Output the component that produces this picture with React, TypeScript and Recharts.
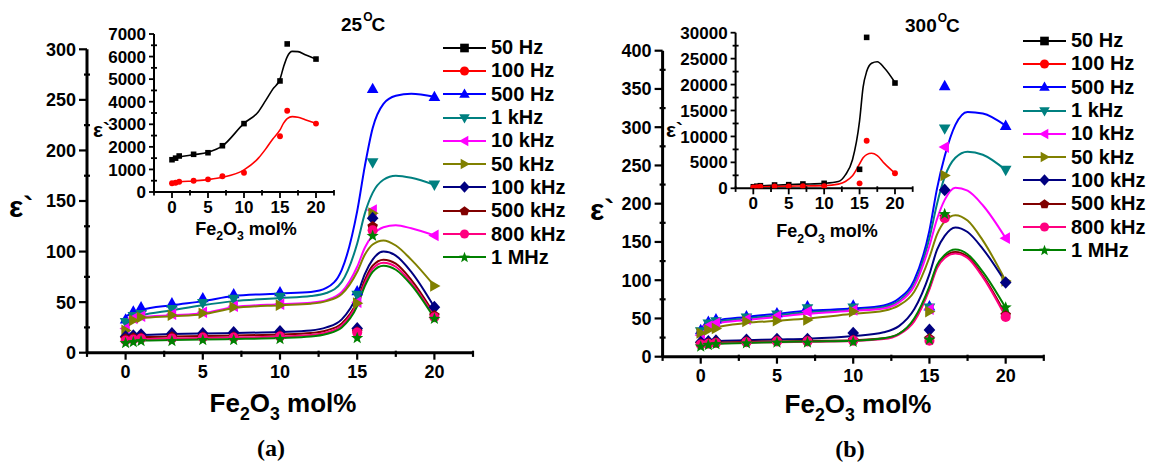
import React from "react";
import { ComposedChart, Line, Scatter, XAxis, YAxis, Legend } from "recharts";

// series order follows the legend
const freqLabels = ["50 Hz", "100 Hz", "500 Hz", "1 kHz", "10 kHz", "50 kHz", "100 kHz", "500 kHz", "800 kHz", "1 MHz"];
const freqColors = ["#000000", "#ff0000", "#0000ff", "#008080", "#ff00ff", "#808000", "#000080", "#800000", "#ff0080", "#008000"];
const freqShapes = ["square", "circle", "up", "down", "left", "right", "diamond", "pentagon", "circle", "star"];

// measured compositions and x of the fitted curves (Fe2O3 mol%)
const pointX = [0, 0.5, 1, 3, 5, 7, 10, 15, 16, 20];
const curveX = [0, 1, 3, 5, 7, 10, 12, 13, 14, 15, 15.5, 16, 16.7, 17.5, 18.5, 20];

const xTicks = [-2.5, 0, 2.5, 5, 7.5, 10, 12.5, 15, 17.5, 20, 22.5];
const yTicks25 = [0, 25, 50, 75, 100, 125, 150, 175, 200, 225, 250, 275, 300];
const yTicks300 = [0, 25, 50, 75, 100, 125, 150, 175, 200, 225, 250, 275, 300, 325, 350, 375, 400];
const insetTicks25 = [0, 500, 1000, 1500, 2000, 2500, 3000, 3500, 4000, 4500, 5000, 5500, 6000, 6500, 7000];
const insetTicks300 = [0, 2500, 5000, 7500, 10000, 12500, 15000, 17500, 20000, 22500, 25000, 27500, 30000];

// 25 C, main panel: 500 Hz .. 1 MHz
const points25 = [
  [33, 41, 45, 49, 54, 58, 60, 61, 261, 253],
  [30, 36, 38, 43, 49, 53, 55, 57, 188, 166],
  [24, 34, 36, 38, 40, 46, 48, 50, 141, 116],
  [22, 32, 35, 37, 39, 45, 47, 49, 138, 66],
  [16, 17, 18, 19, 19, 20, 21, 24, 133, 45],
  [14, 15, 15, 16, 16, 16, 17, 21, 125, 37],
  [12, 13, 14, 14, 15, 15, 16, 20, 121, 35],
  [10, 11, 12, 12, 13, 13, 14, 15, 116, 34],
];
const curves25 = [
  [36, 42, 47, 51, 56, 58.5, 60, 64, 82, 140, 185, 222, 246, 254, 256, 253],
  [32, 37, 42, 47, 51, 54, 56, 59, 70, 108, 138, 158, 171, 175, 173, 166],
  [27, 35, 37, 39, 45, 48, 49.5, 52, 60, 85, 104, 116, 124, 126, 123, 116],
  [26, 34, 36, 38, 44, 47, 48.5, 51, 58, 80, 97, 107, 111, 106, 92, 66],
  [15, 17.5, 18.5, 19, 19.5, 20.5, 22, 25, 33, 57, 78, 92, 100, 96, 80, 45],
  [14, 15.5, 16, 16.5, 17, 18, 19.5, 22, 29, 51, 72, 86, 92, 88, 72, 38],
  [12, 13.5, 14, 14.5, 15, 16, 17.5, 20, 27, 49, 69, 83, 89, 85, 69, 36],
  [11, 12, 12.5, 13, 13.5, 14.5, 16, 18.5, 25, 46, 66, 80, 86, 82, 67, 34],
];

// 300 C, main panel: 500 Hz .. 1 MHz
const points300 = [
  [35, 46, 49, 53, 57, 66, 67, 66, 354, 302],
  [33, 43, 46, 51, 55, 63, 64, 64, 298, 244],
  [28, 40, 44, 49, 53, 59, 61, 62, 274, 155],
  [31, 35, 37, 46, 47, 48, 59, 59, 237, 99],
  [19, 20, 21, 22, 23, 23, 31, 35, 218, 97],
  [17, 18, 19, 20, 21, 21, 22, 24, 183, 55],
  [16, 17, 18, 19, 20, 20, 21, 21, 181, 52],
  [14, 16, 17, 18, 19, 19, 20, 23, 187, 65],
];
const curves300 = [
  [38, 47, 52, 56, 60, 63, 67, 76, 100, 165, 220, 262, 303, 320, 318, 302],
  [36, 45, 50, 54, 58, 61, 65, 73, 95, 155, 200, 235, 260, 268, 264, 244],
  [34, 43, 48, 52, 56, 60, 63, 71, 92, 145, 180, 205, 221, 217, 198, 155],
  [31, 38, 44, 47, 50, 56, 60, 67, 85, 130, 160, 177, 185, 178, 152, 99],
  [19, 20.5, 21.5, 22.5, 23.5, 27, 32, 40, 62, 108, 140, 158, 169, 163, 141, 97],
  [17, 18.5, 19.5, 20, 20.5, 21.5, 24, 30, 48, 90, 118, 131, 137, 131, 106, 55],
  [16, 17.5, 18.5, 19, 19.5, 20.5, 23, 29, 46, 88, 116, 129, 135, 129, 104, 52],
  [15, 17, 18, 19, 20, 21, 24, 30, 50, 92, 120, 133, 140, 134, 111, 64],
];

// insets: 50 Hz and 100 Hz
const insetPoints25 = [
  [1430, 1500, 1595, 1670, 1740, 2050, 3030, 4920, 6560, 5890],
  [385, 410, 457, 500, 560, 695, 855, 2470, 3600, 3030],
];
const insetCurves25 = [
  [1450, 1550, 1650, 1760, 2040, 3040, 3560, 4050, 4560, 5000, 5550, 5990, 6230, 6220, 6080, 5890],
  [390, 440, 490, 550, 650, 980, 1500, 1900, 2350, 2750, 3050, 3250, 3340, 3310, 3200, 3040],
];
const insetPoints300 = [
  [300, 400, 500, 640, 700, 830, 960, 3660, 29100, 20300],
  [150, 200, 300, 350, 380, 400, 420, 960, 9180, 2890],
];
const insetCurves300 = [
  [300, 450, 600, 700, 800, 950, 1300, 2600, 5500, 13000, 19500, 22500, 24100, 24400, 23200, 20400],
  [200, 300, 350, 400, 450, 500, 800, 1300, 2400, 4700, 5900, 6500, 6750, 6300, 4800, 2900],
];

const FONT = "'Liberation Sans', Arial, sans-serif";

function Marker({ cx, cy, shape, color, r }: any) {
  if (cx == null || cy == null) return null;
  const poly = (pts: number[][]) => (
    <polygon points={pts.map((p) => `${cx + p[0] * r},${cy + p[1] * r}`).join(" ")} fill={color} />
  );
  switch (shape) {
    case "square":
      return <rect x={cx - r * 0.9} y={cy - r * 0.9} width={r * 1.8} height={r * 1.8} fill={color} />;
    case "circle":
      return <circle cx={cx} cy={cy} r={r * 0.95} fill={color} />;
    case "up":
      return poly([[0, -1.15], [1.1, 0.8], [-1.1, 0.8]]);
    case "down":
      return poly([[0, 1.15], [1.1, -0.8], [-1.1, -0.8]]);
    case "left":
      return poly([[-1.15, 0], [0.8, -1.1], [0.8, 1.1]]);
    case "right":
      return poly([[1.15, 0], [-0.8, -1.1], [-0.8, 1.1]]);
    case "diamond":
      return poly([[0, -1.2], [1.1, 0], [0, 1.2], [-1.1, 0]]);
    case "pentagon": {
      const pts = [0, 1, 2, 3, 4].map((k) => {
        const a = -Math.PI / 2 + (k * 2 * Math.PI) / 5;
        return [Math.cos(a) * 1.05, Math.sin(a) * 1.05 + 0.05];
      });
      return poly(pts);
    }
    case "star": {
      const pts = [0, 1, 2, 3, 4, 5, 6, 7, 8, 9].map((k) => {
        const a = -Math.PI / 2 + (k * Math.PI) / 5;
        const rr = k % 2 === 0 ? 1.2 : 0.5;
        return [Math.cos(a) * rr, Math.sin(a) * rr + 0.1];
      });
      return poly(pts);
    }
    default:
      return null;
  }
}

const toPts = (xs: number[], ys: number[]) => xs.map((x, i) => ({ x, y: ys[i] }));

const makeXTick = (fontSize: number, labelDy: number, majorLen: number, width: number) => (props: any) => {
  const { x, y, payload } = props;
  const v = payload.value;
  const major = v >= 0 && v <= 20 && v % 5 === 0;
  return (
    <g>
      {major ? (
        <line x1={x} x2={x} y1={y} y2={y + majorLen} stroke="#000" strokeWidth={width} />
      ) : (
        <line x1={x} x2={x} y1={y - 2} y2={y + majorLen * 0.6} stroke="#000" strokeWidth={width} />
      )}
      {major && (
        <text x={x} y={y + labelDy} textAnchor="middle" fontFamily={FONT} fontWeight="bold" fontSize={fontSize} fill="#000">
          {v}
        </text>
      )}
    </g>
  );
};

const makeYTick = (step: number, fontSize: number, majorLen: number, width: number) => (props: any) => {
  const { x, y, payload } = props;
  const v = payload.value;
  const major = v % step === 0;
  return (
    <g>
      {major ? (
        <line x1={x - majorLen} x2={x} y1={y} y2={y} stroke="#000" strokeWidth={width} />
      ) : (
        <line x1={x - 3} x2={x + 3} y1={y} y2={y} stroke="#000" strokeWidth={width} />
      )}
      {major && (
        <text x={x - majorLen - 3} y={y} dy="0.36em" textAnchor="end" fontFamily={FONT} fontWeight="bold" fontSize={fontSize} fill="#000">
          {v}
        </text>
      )}
    </g>
  );
};

function LegendBox() {
  return (
    <div>
      {freqLabels.map((name, i) => (
        <div key={name} style={{ display: "flex", alignItems: "center", height: 23.3 }}>
          <svg width={44} height={16}>
            <line x1={0} x2={43} y1={8} y2={8} stroke={freqColors[i]} strokeWidth={2} />
            <Marker cx={21.5} cy={8} shape={freqShapes[i]} color={freqColors[i]} r={4.8} />
          </svg>
          <span style={{ marginLeft: 4, fontFamily: FONT, fontWeight: "bold", fontSize: 20, color: "#000", whiteSpace: "nowrap" }}>
            {name}
          </span>
        </div>
      ))}
    </div>
  );
}

function MainPanel({ points, curves, yTicks, yMax, width, margin, legendTop }: any) {
  return (
    <ComposedChart width={width} height={390} margin={margin}>
      <XAxis
        type="number"
        dataKey="x"
        domain={[-2.5, 22.5]}
        ticks={xTicks}
        interval={0}
        allowDataOverflow
        height={30}
        tickSize={0}
        tickMargin={0}
        axisLine={{ stroke: "#000", strokeWidth: 3 }}
        tickLine={false}
        tick={makeXTick(18, 25.5, 7, 2.2)}
      />
      <YAxis
        type="number"
        dataKey="y"
        domain={[0, yMax]}
        ticks={yTicks}
        interval={0}
        allowDataOverflow
        width={50}
        tickSize={0}
        tickMargin={0}
        axisLine={{ stroke: "#000", strokeWidth: 3 }}
        tickLine={false}
        tick={makeYTick(50, 18, 8, 2.2)}
      />
      <Legend
        layout="vertical"
        align="center"
        verticalAlign="middle"
        content={() => <LegendBox />}
        wrapperStyle={{ left: 443, top: legendTop, width: "auto" }}
      />
      {curves.map((c: number[], i: number) => (
        <Line
          key={"c" + i}
          data={toPts(curveX, c)}
          dataKey="y"
          type="monotone"
          stroke={freqColors[i + 2]}
          strokeWidth={2}
          dot={false}
          activeDot={false}
          legendType="none"
          isAnimationActive={false}
        />
      ))}
      {points.map((p: number[], i: number) => (
        <Scatter
          key={"p" + i}
          data={toPts(pointX, p)}
          dataKey="y"
          legendType="none"
          isAnimationActive={false}
          shape={(s: any) => <Marker cx={s.cx} cy={s.cy} shape={freqShapes[i + 2]} color={freqColors[i + 2]} r={5.3} />}
        />
      ))}
    </ComposedChart>
  );
}

function InsetPanel({ points, curves, yTicks, yMax, step, width, yWidth, margin }: any) {
  return (
    <ComposedChart width={width} height={200} margin={margin}>
      <XAxis
        type="number"
        dataKey="x"
        domain={[-2.5, 22.5]}
        ticks={xTicks}
        interval={0}
        allowDataOverflow
        height={25}
        tickSize={0}
        tickMargin={0}
        axisLine={{ stroke: "#000", strokeWidth: 2 }}
        tickLine={false}
        tick={makeXTick(17, 21, 6, 1.8)}
      />
      <YAxis
        type="number"
        dataKey="y"
        domain={[0, yMax]}
        ticks={yTicks}
        interval={0}
        allowDataOverflow
        width={yWidth}
        tickSize={0}
        tickMargin={0}
        axisLine={{ stroke: "#000", strokeWidth: 2 }}
        tickLine={false}
        tick={makeYTick(step, 17, 5, 1.8)}
      />
      {curves.map((c: number[], i: number) => (
        <Line
          key={"c" + i}
          data={toPts(curveX, c)}
          dataKey="y"
          type="monotone"
          stroke={freqColors[i]}
          strokeWidth={1.6}
          dot={false}
          activeDot={false}
          isAnimationActive={false}
        />
      ))}
      {points.map((p: number[], i: number) => (
        <Scatter
          key={"p" + i}
          data={toPts(pointX, p)}
          dataKey="y"
          isAnimationActive={false}
          shape={(s: any) => <Marker cx={s.cx} cy={s.cy} shape={freqShapes[i]} color={freqColors[i]} r={3.1} />}
        />
      ))}
    </ComposedChart>
  );
}

function FeTitle({ x, y, size }: any) {
  const sub = size * 0.68;
  const drop = size * 0.3;
  return (
    <text x={x} y={y} textAnchor="middle" fontFamily={FONT} fontWeight="bold" fontSize={size} fill="#000">
      Fe
      <tspan fontSize={sub} dy={drop}>2</tspan>
      <tspan dy={-drop}>O</tspan>
      <tspan fontSize={sub} dy={drop}>3</tspan>
      <tspan dy={-drop}> mol%</tspan>
    </text>
  );
}

function Temp({ x, y, label }: any) {
  return (
    <text x={x} y={y} fontFamily={FONT} fontWeight="bold" fontSize={19} fill="#000">
      {label}
      <tspan fontSize={12} dy={-10} dx={1}>O</tspan>
      <tspan dy={10} dx={-1}>C</tspan>
    </text>
  );
}

export default function App() {
  return (
    <div style={{ position: "absolute", left: 0, top: 0, width: 1150, height: 463, background: "#fff", overflow: "hidden" }}>
      <div style={{ position: "absolute", left: 0, top: 0 }}>
        <MainPanel
          points={points25}
          curves={curves25}
          yTicks={yTicks25}
          yMax={300}
          width={480}
          margin={{ top: 49.3, right: 7, left: 37, bottom: 7.3 }}
          legendTop={36}
        />
      </div>
      <div style={{ position: "absolute", left: 90, top: 20 }}>
        <InsetPanel
          points={insetPoints25}
          curves={insetCurves25}
          yTicks={insetTicks25}
          yMax={7000}
          step={1000}
          width={250}
          yWidth={50}
          margin={{ top: 14, right: 6, left: 14, bottom: 3 }}
        />
      </div>
      <div style={{ position: "absolute", left: 580, top: 0 }}>
        <MainPanel
          points={points300}
          curves={curves300}
          yTicks={yTicks300}
          yMax={400}
          width={470}
          margin={{ top: 50.7, right: 6.2, left: 32.6, bottom: 3.3 }}
          legendTop={29}
        />
      </div>
      <div style={{ position: "absolute", left: 660, top: 15 }}>
        <InsetPanel
          points={insetPoints300}
          curves={insetCurves300}
          yTicks={insetTicks300}
          yMax={30000}
          step={5000}
          width={260}
          yWidth={60}
          margin={{ top: 17.7, right: 7.3, left: 15.6, bottom: 1.7 }}
        />
      </div>
      <svg width={1150} height={463} style={{ position: "absolute", left: 0, top: 0, pointerEvents: "none" }}>
        <Temp x={341} y={30.5} label="25" />
        <Temp x={905} y={32.3} label="300" />
        <text x={9} y={217} fontFamily={FONT} fontWeight="bold" fontSize={30} fill="#000">ε`</text>
        <text x={590} y={220} fontFamily={FONT} fontWeight="bold" fontSize={30} fill="#000">ε`</text>
        <text x={93} y={136.5} fontFamily={FONT} fontWeight="bold" fontSize={21} fill="#000">ε`</text>
        <text x={666} y={136.5} fontFamily={FONT} fontWeight="bold" fontSize={21} fill="#000">ε`</text>
        <FeTitle x={283} y={412} size={26} />
        <FeTitle x={858} y={413.3} size={26} />
        <FeTitle x={246} y={234.7} size={18} />
        <FeTitle x={827} y={237.3} size={18} />
        <text x={271} y={456} textAnchor="middle" fontFamily="'Liberation Serif', 'Times New Roman', serif" fontWeight="bold" fontSize={24} fill="#000">(a)</text>
        <text x={850} y={457} textAnchor="middle" fontFamily="'Liberation Serif', 'Times New Roman', serif" fontWeight="bold" fontSize={24} fill="#000">(b)</text>
      </svg>
    </div>
  );
}
